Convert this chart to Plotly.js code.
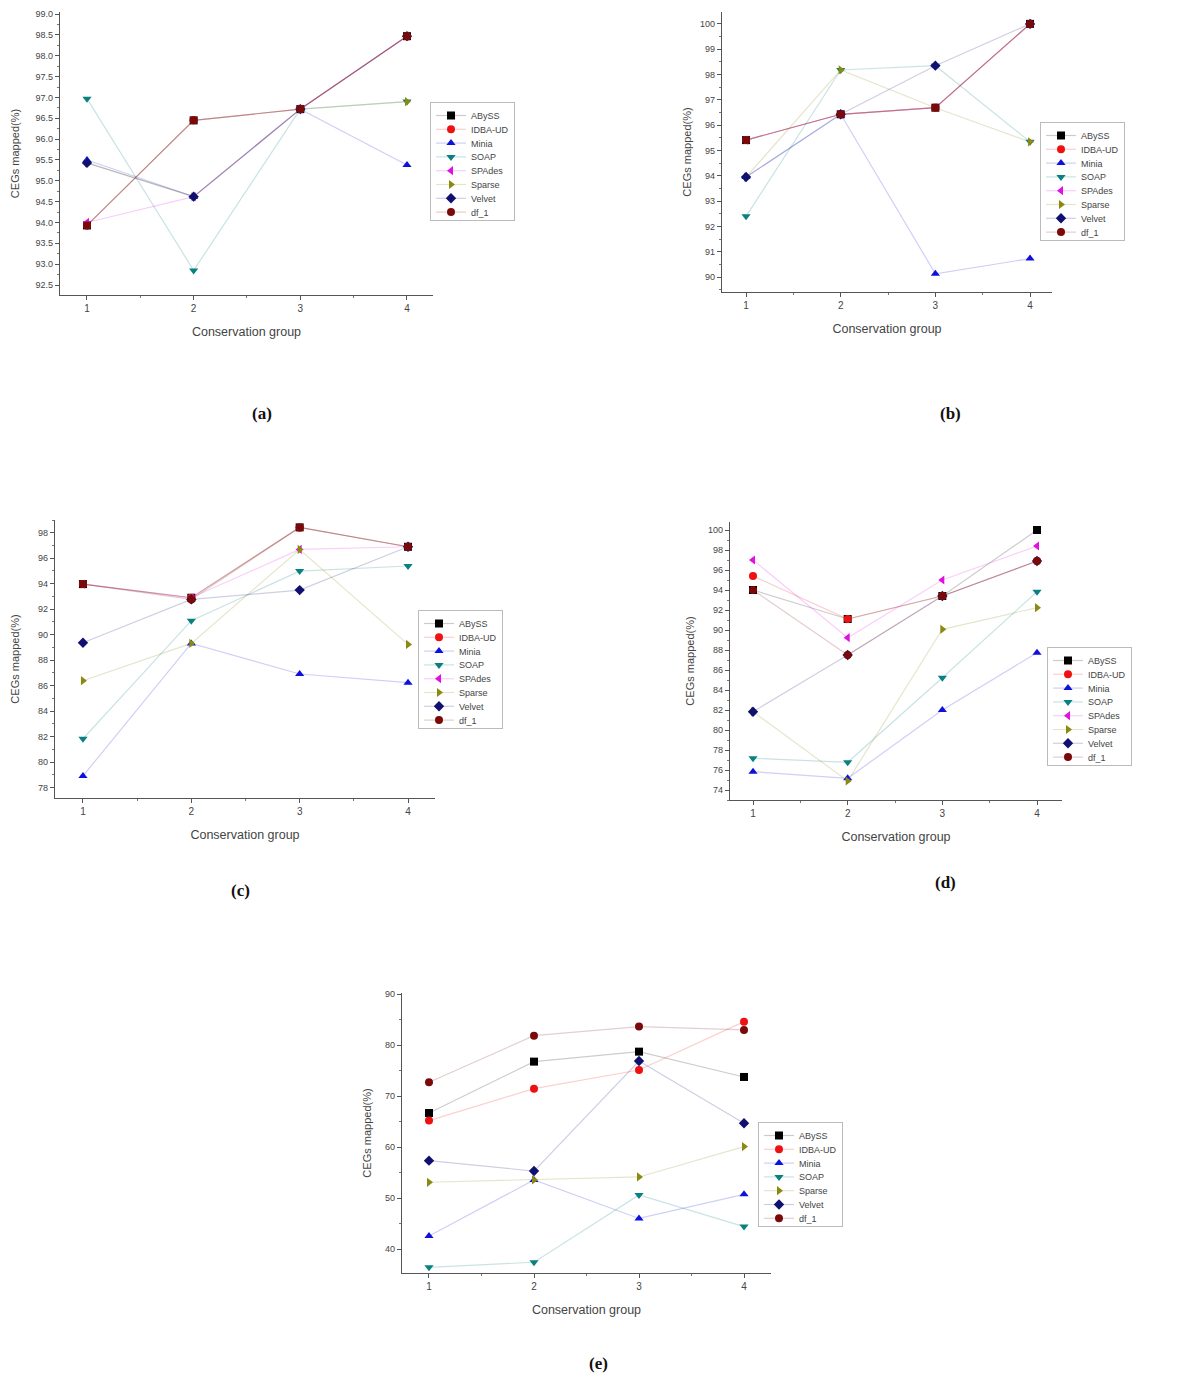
<!DOCTYPE html>
<html>
<head>
<meta charset="utf-8">
<script src="https://cdn.plot.ly/plotly-3.0.1.min.js"></script>
<style>
  html, body { margin: 0; padding: 0; background: #fff; }
  #chart { width: 1200px; height: 1385px; }
</style>
</head>
<body>
<div id="chart"></div>
<script>
const groups = [1, 2, 3, 4];
const seriesNames = ["ABySS", "IDBA-UD", "Minia", "SOAP", "SPAdes", "Sparse", "Velvet", "df_1"];
const seriesNamesE = ["ABySS", "IDBA-UD", "Minia", "SOAP", "Sparse", "Velvet", "df_1"];

// values per series, in seriesNames order
const valuesA = [
  [93.93, 96.45, 96.72, 98.47],
  [93.93, 96.45, 96.72, 98.47],
  [95.5, 94.62, 96.72, 95.38],
  [96.97, 92.85, 96.72, 96.9],
  [94.0, 94.62, 96.72, 98.47],
  [95.43, 94.62, 96.72, 96.9],
  [95.43, 94.62, 96.72, 98.47],
  [93.93, 96.45, 96.72, 98.47]
];
const valuesB = [
  [95.41, 96.43, 96.69, 100],
  [95.41, 96.43, 96.69, 100],
  [93.95, 96.43, 90.13, 90.73],
  [92.4, 98.18, 98.35, 95.34],
  [95.41, 96.43, 96.69, 100],
  [93.95, 98.18, 96.69, 95.34],
  [93.95, 96.43, 98.35, 100],
  [95.41, 96.43, 96.69, 100]
];
const valuesC = [
  [93.97, 92.9, 98.42, 96.9],
  [93.97, 92.9, 98.42, 96.9],
  [78.92, 89.32, 86.92, 86.24],
  [81.84, 91.1, 94.99, 95.39],
  [93.97, 92.9, 96.69, 96.9],
  [86.39, 89.32, 96.69, 89.24],
  [89.37, 92.77, 93.5, 96.9],
  [93.97, 92.77, 98.42, 96.9]
];
const valuesD = [
  [94.0, 91.1, 93.4, 100],
  [95.4, 91.1, 93.4, 96.9],
  [75.83, 75.17, 82.0, 87.73],
  [77.17, 76.77, 85.23, 93.83],
  [97.0, 89.23, 95.0, 98.4],
  [81.83, 74.9, 90.07, 92.23],
  [81.83, 87.5, 93.4, 96.9],
  [94.0, 87.5, 93.4, 96.9]
];
// panel (e) has no SPAdes, order = seriesNamesE
const valuesE = [
  [66.7, 76.78, 78.74, 73.77],
  [65.2, 71.48, 75.14, 84.63],
  [42.55, 53.55, 46.0, 50.73],
  [36.4, 37.4, 50.6, 44.4],
  [53.1, 53.55, 54.14, 60.1],
  [57.34, 55.3, 76.9, 64.67],
  [72.72, 81.88, 83.65, 83.0]
];

const styles = {
  "ABySS":   { color: "#000000", line: "rgba(0,0,0,0.2)",      symbol: "square" },
  "IDBA-UD": { color: "#ee1111", line: "rgba(238,17,17,0.2)",  symbol: "circle" },
  "Minia":   { color: "#1010dd", line: "rgba(16,16,221,0.2)",  symbol: "triangle-up" },
  "SOAP":    { color: "#0a8080", line: "rgba(10,128,128,0.22)", symbol: "triangle-down" },
  "SPAdes":  { color: "#e010e0", line: "rgba(224,16,224,0.2)", symbol: "triangle-left" },
  "Sparse":  { color: "#8a8a10", line: "rgba(138,138,16,0.22)", symbol: "triangle-right" },
  "Velvet":  { color: "#101070", line: "rgba(16,16,112,0.2)",  symbol: "diamond" },
  "df_1":    { color: "#7a0a0a", line: "rgba(122,10,10,0.2)",  symbol: "circle" }
};

const W = 1200, H = 1385;
// pixel boxes: plot area [left, top, right, bottom], x/y ranges, legend pos, label pos
const panels = [
  { names: seriesNames, values: valuesA, box: [60, 12, 433, 295], xr: [0.747, 4.244], yr: [92.26, 99.05],
    dtick: 0.5, fmt: ".1f", ys: 13, leg: [430, 102], lab: [262, 413], text: "(a)" },
  { names: seriesNames, values: valuesB, box: [722, 12, 1052, 292], xr: [0.746, 4.232], yr: [89.41, 100.47],
    dtick: 1, fmt: "d", ys: 6, leg: [1040, 122], lab: [950, 413], text: "(b)" },
  { names: seriesNames, values: valuesC, box: [55, 520, 435, 798], xr: [0.742, 4.249], yr: [77.19, 99.0],
    dtick: 2, fmt: "d", ys: 16, leg: [418, 610], lab: [240, 890], text: "(c)" },
  { names: seriesNames, values: valuesD, box: [730, 522, 1062, 800], xr: [0.757, 4.264], yr: [73.0, 100.8],
    dtick: 2, fmt: "d", ys: 11, leg: [1047, 647], lab: [945, 883], text: "(d)" },
  { names: seriesNamesE, values: valuesE, box: [402, 993, 771, 1273], xr: [0.743, 4.257], yr: [35.29, 90.25],
    dtick: 10, fmt: "d", ys: 11, leg: [758, 1122], lab: [598, 1363], text: "(e)" }
];

const traces = [];
const layout = {
  width: W, height: H,
  margin: { l: 0, r: 0, t: 0, b: 0 },
  paper_bgcolor: "#ffffff",
  plot_bgcolor: "#ffffff",
  font: { family: "Liberation Sans, Arial, sans-serif", color: "#444" },
  showlegend: true,
  annotations: []
};

panels.forEach((p, i) => {
  const n = i + 1;
  const xa = "x" + (n === 1 ? "" : n), ya = "y" + (n === 1 ? "" : n);
  const legKey = n === 1 ? "legend" : "legend" + n;

  p.names.forEach((name, k) => {
    const s = styles[name];
    traces.push({
      x: groups, y: p.values[k],
      type: "scatter", mode: "lines+markers", name: name,
      xaxis: xa, yaxis: ya, legend: legKey,
      line: { color: s.line, width: 1.2 },
      marker: { color: s.color, symbol: s.symbol, size: 8 }
    });
  });

  const [l, t, r, b] = p.box;
  layout["xaxis" + (n === 1 ? "" : n)] = {
    domain: [l / W, r / W], anchor: ya, range: p.xr,
    tickvals: groups, ticks: "outside", ticklen: 4, tickcolor: "#555",
    minor: { dtick: 0.5, tick0: 0.5, ticks: "outside", ticklen: 2, tickcolor: "#777" },
    showline: true, linecolor: "#555", linewidth: 1.2,
    showgrid: false, zeroline: false, automargin: false,
    tickfont: { size: 10, color: "#444" },
    title: { text: "Conservation group", font: { size: 12.5, color: "#444" }, standoff: 14 }
  };
  layout["yaxis" + (n === 1 ? "" : n)] = {
    domain: [1 - b / H, 1 - t / H], anchor: xa, range: p.yr,
    dtick: p.dtick, tick0: 0, tickformat: p.fmt,
    ticks: "outside", ticklen: 4, tickcolor: "#555",
    minor: { dtick: p.dtick / 2, ticks: "outside", ticklen: 2, tickcolor: "#777" },
    showline: true, linecolor: "#555", linewidth: 1.2,
    showgrid: false, zeroline: false, automargin: false,
    tickfont: { size: 9, color: "#444" },
    title: { text: "CEGs mapped(%)", font: { size: 11, color: "#444" }, standoff: p.ys }
  };
  layout[legKey] = {
    x: p.leg[0] / W, y: 1 - p.leg[1] / H, xanchor: "left", yanchor: "top",
    bgcolor: "#ffffff", bordercolor: "#bbb", borderwidth: 1,
    font: { size: 9, color: "#444" }, itemwidth: 30, tracegroupgap: 0
  };
  layout.annotations.push({
    xref: "paper", yref: "paper", x: p.lab[0] / W, y: 1 - p.lab[1] / H,
    xanchor: "center", yanchor: "middle",
    text: "<b>" + p.text + "</b>", showarrow: false,
    font: { family: "Liberation Serif, Times New Roman, serif", size: 17, color: "#111" }
  });
});

// tighten legend row spacing to match the compact legends of the original figure
function compactLegends(gd) {
  const step = 13.8;
  const legends = Array.from(gd.querySelectorAll("g.infolayer > g"))
    .filter(g => /^legend\d*$/.test(g.getAttribute("class") || ""));
  legends.forEach(leg => {
    const items = leg.querySelectorAll("g.traces");
    if (!items.length) return;
    const m = /translate\(([-\d.]+)\s*,\s*([-\d.]+)\)/.exec(items[0].getAttribute("transform") || "");
    const x0 = m ? parseFloat(m[1]) : 0;
    const y0 = m ? parseFloat(m[2]) - 2 : 8;
    items.forEach((it, k) => it.setAttribute("transform", `translate(${x0},${y0 + k * step})`));
    const h = y0 + (items.length - 1) * step + 8;
    const bg = leg.querySelector("rect.bg");
    if (bg) bg.setAttribute("height", h);
  });
}

Plotly.newPlot("chart", traces, layout, { displayModeBar: false, staticPlot: true })
  .then(compactLegends);
</script>
</body>
</html>
